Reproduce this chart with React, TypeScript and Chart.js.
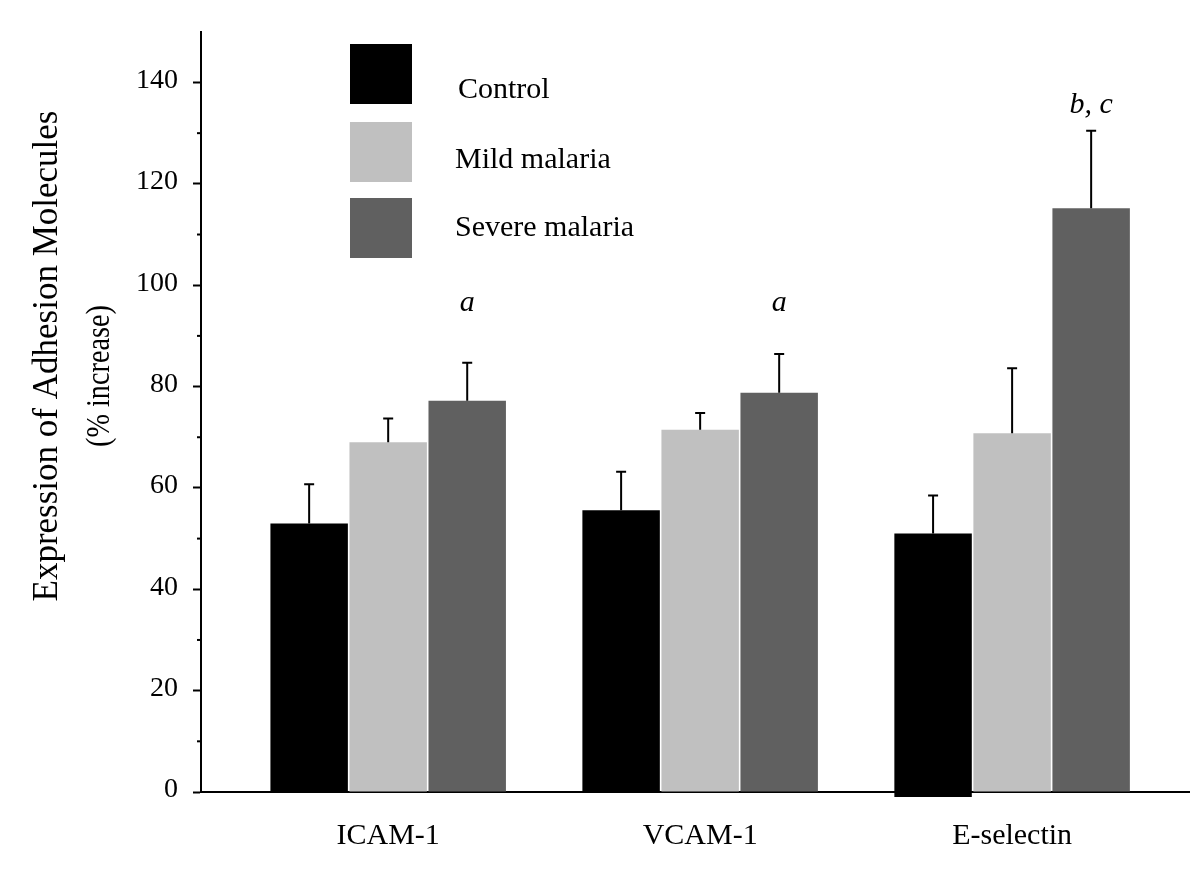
import React, { useEffect, useRef } from 'react';
import { Chart, registerables } from 'chart.js';

Chart.register(...registerables);

// ---- data ----
const categories = ['ICAM-1', 'VCAM-1', 'E-selectin'];
const seriesLabels = ['Control', 'Mild malaria', 'Severe malaria'];
const seriesColors = ['#000000', '#c0c0c0', '#606060'];
const controlValues = [53.0, 55.6, 51.0];
const controlBase = [0, 0, -1];
const mildValues = [69.0, 71.5, 70.8];
const severeValues = [77.2, 78.8, 115.2];
const controlErrors = [7.7, 7.6, 7.5];
const mildErrors = [4.7, 3.3, 12.8];
const severeErrors = [7.5, 7.6, 15.3];
const annotationTexts = ['a', 'a', 'b, c'];
const annotationValues = [96.5, 96.5, 135.5];
const yTitleLines = ['Expression of Adhesion Molecules', '(% increase)'];

const FONT = "'Liberation Serif', 'Times New Roman', serif";

const valuesBySeries = [controlValues, mildValues, severeValues];
const errorsBySeries = [controlErrors, mildErrors, severeErrors];

const errorBarPlugin = {
  id: 'errorBars',
  afterDatasetsDraw(chart: any) {
    const ctx = chart.ctx;
    const y = chart.scales.y;
    ctx.save();
    ctx.strokeStyle = '#000';
    ctx.lineWidth = 2;
    valuesBySeries.forEach((vals, di) => {
      const meta = chart.getDatasetMeta(di);
      meta.data.forEach((el: any, i: number) => {
        const x = el.x;
        const y0 = y.getPixelForValue(vals[i]);
        const y1 = y.getPixelForValue(vals[i] + errorsBySeries[di][i]);
        ctx.beginPath();
        ctx.moveTo(x, y0);
        ctx.lineTo(x, y1);
        ctx.moveTo(x - 5, y1);
        ctx.lineTo(x + 5, y1);
        ctx.stroke();
      });
    });
    // annotations above the severe bars
    const sev = chart.getDatasetMeta(2);
    ctx.fillStyle = '#000';
    ctx.font = `italic 30px ${FONT}`;
    ctx.textAlign = 'center';
    ctx.textBaseline = 'middle';
    sev.data.forEach((el: any, i: number) => {
      ctx.fillText(annotationTexts[i], el.x, y.getPixelForValue(annotationValues[i]));
    });
    ctx.restore();
  },
};

const decorPlugin = {
  id: 'decor',
  afterDraw(chart: any) {
    const ctx = chart.ctx;
    const y = chart.scales.y;
    const left = chart.chartArea.left;
    ctx.save();
    // minor ticks
    ctx.strokeStyle = '#000';
    ctx.lineWidth = 2;
    for (let v = 10; v < 150; v += 20) {
      const py = y.getPixelForValue(v);
      ctx.beginPath();
      ctx.moveTo(left - 4, py);
      ctx.lineTo(left, py);
      ctx.stroke();
    }
    // legend
    const boxTops = [44, 122, 198];
    const textX = [458, 455, 455];
    const textY = [90, 160, 228];
    ctx.font = `30px ${FONT}`;
    ctx.textAlign = 'left';
    ctx.textBaseline = 'middle';
    seriesLabels.forEach((lab, i) => {
      ctx.fillStyle = seriesColors[i];
      ctx.fillRect(350, boxTops[i], 62, 60);
      ctx.fillStyle = '#000';
      ctx.fillText(lab, textX[i], textY[i]);
    });
    // y-axis title
    ctx.textAlign = 'center';
    const titlePos = [
      [48, 356, 35, 500],
      [100, 376, 33, 142],
    ];
    yTitleLines.forEach((t, i) => {
      ctx.save();
      ctx.font = `${titlePos[i][2]}px ${FONT}`;
      ctx.translate(titlePos[i][0], titlePos[i][1]);
      ctx.rotate(-Math.PI / 2);
      ctx.fillText(t, 0, 0, titlePos[i][3]);
      ctx.restore();
    });
    ctx.restore();
  },
};

export default function App() {
  const ref = useRef<HTMLCanvasElement | null>(null);
  useEffect(() => {
    document.body.style.margin = '0';
    if (!ref.current) return;
    const mk = (vals: number[], base?: number[]) =>
      vals.map((v, i) => ({ x: i, y: base ? [base[i], v] : v }));
    const chart = new Chart(ref.current, {
      type: 'bar',
      data: {
        datasets: [
          { label: seriesLabels[0], data: mk(controlValues, controlBase) as any, backgroundColor: seriesColors[0], clip: false as any },
          { label: seriesLabels[1], data: mk(mildValues) as any, backgroundColor: seriesColors[1] },
          { label: seriesLabels[2], data: mk(severeValues) as any, backgroundColor: seriesColors[2] },
        ],
      },
      options: {
        responsive: false,
        animation: false,
        events: [],
        layout: { padding: { top: 30, right: 11, left: 0, bottom: 0 } },
        datasets: { bar: { categoryPercentage: 0.76, barPercentage: 0.98 } },
        plugins: { legend: { display: false }, tooltip: { enabled: false } },
        scales: {
          x: {
            type: 'linear',
            offset: false,
            min: -0.6,
            max: 2.567,
            afterBuildTicks: (axis: any) => {
              axis.ticks = categories.map((_, i) => ({ value: i }));
            },
            afterFit: (scale: any) => {
              scale.height = 84;
            },
            grid: { display: false, drawTicks: false, offset: false },
            border: { display: true, color: '#000', width: 2 },
            ticks: {
              padding: 26,
              color: '#000',
              font: { family: FONT, size: 30 },
              callback: (v: any) => categories[v] ?? '',
            },
          },
          y: {
            min: 0,
            max: 150,
            afterFit: (scale: any) => {
              scale.width = 201;
            },
            grid: {
              drawOnChartArea: false,
              drawTicks: true,
              tickLength: 8,
              tickWidth: 2,
              tickColor: (c: any) => (c.tick && c.tick.value % 20 === 0 && c.tick.value < 150 ? '#000' : 'rgba(0,0,0,0)'),
            },
            border: { display: true, color: '#000', width: 2 },
            ticks: {
              stepSize: 10,
              padding: 15,
              labelOffset: -2,
              color: '#000',
              font: { family: FONT, size: 28 },
              callback: (v: any) => (v % 20 === 0 && v < 150 ? String(v) : ''),
            },
          },
        },
      },
      plugins: [errorBarPlugin, decorPlugin],
    });
    return () => chart.destroy();
  }, []);
  return <canvas ref={ref} width={1200} height={876} style={{ display: 'block' }} />;
}
